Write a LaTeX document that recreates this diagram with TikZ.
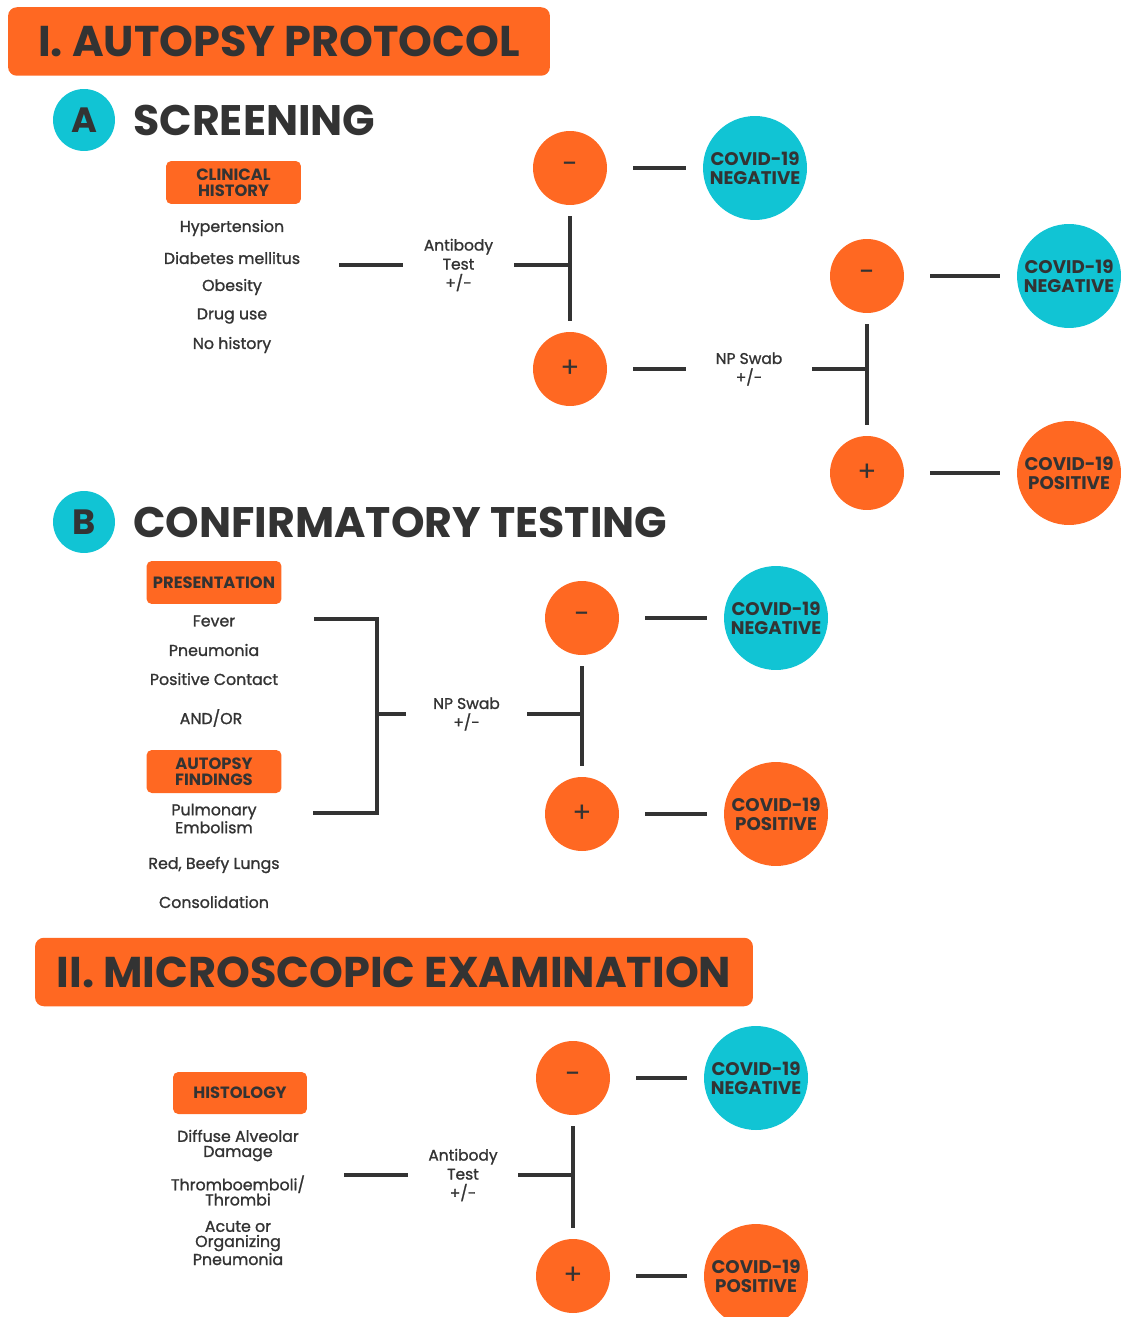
\documentclass[tikz,border=0pt]{standalone}
\usepackage{fontspec}
\setmainfont{Poppins}
\newfontfamily\medfont{Poppins}[FakeBold=1.2]
\usetikzlibrary{positioning}
\definecolor{orangeC}{RGB}{255,104,34}
\definecolor{cyanC}{RGB}{17,196,212}
\definecolor{darkC}{RGB}{51,51,51}
\tikzset{
    titlebar/.style = {rectangle, rounded corners=5pt, fill=orangeC, text=darkC, minimum height=1.37cm, font=\fontsize{24.5}{28}\selectfont\bfseries},
    headtext/.style = {anchor=west, inner sep=0pt, text=darkC, font=\fontsize{24.3}{28}\selectfont\bfseries},
    letternode/.style = {circle, fill=cyanC, minimum size=1.24cm, inner sep=0pt, text=darkC, font=\fontsize{20}{24}\selectfont\bfseries},
    tagnode/.style = {rectangle, rounded corners=3pt, fill=orangeC, minimum width=2.7cm, minimum height=0.86cm, align=center, text=darkC, font=\fontsize{9.3}{9}\selectfont\bfseries},
    itemtext/.style = {align=center, inner sep=0pt, text=darkC, font=\fontsize{9}{8.6}\selectfont\medfont},
    testtext/.style = {align=center, inner xsep=0pt, text=darkC, font=\fontsize{8.8}{10.8}\selectfont\medfont},
    signnode/.style = {circle, fill=orangeC, minimum size=1.48cm, inner sep=0pt, text=darkC, font=\fontsize{16}{18}\selectfont},
    negnode/.style = {circle, fill=cyanC, minimum size=2.08cm, inner sep=0pt, align=center, text=darkC, font=\fontsize{10.4}{10.8}\selectfont\bfseries},
    posnode/.style = {circle, fill=orangeC, minimum size=2.08cm, inner sep=0pt, align=center, text=darkC, font=\fontsize{10.4}{10.8}\selectfont\bfseries},
    edgen/.style = {-, line width=2.8pt, darkC},
    edgeside/.style = {edgen, shorten <=0.52cm, shorten >=0.34cm}, % sign to result
    edgeup/.style = {edgen, shorten <=0.22cm, shorten >=0.22cm} % minus to plus
}

\begin{document}
\begin{tikzpicture}[x=0.02cm,y=-0.02cm]
\path[use as bounding box] (0,0) rectangle (1121,1317);
%
\node[titlebar, minimum width=10.84cm] at (279,41.5) (t1) {I. AUTOPSY PROTOCOL};
\node[letternode] at (84,120) (la) {A};
\node[headtext] at (133,120) (h1) {SCREENING};
%
\node[tagnode] at (233.5,182.5) (clin) {CLINICAL\\HISTORY};
\node[itemtext] at (232,228) (i1) {Hypertension};
\node[itemtext] at (232,258) (i2) {Diabetes mellitus};
\node[itemtext] at (232,287) (i3) {Obesity};
\node[itemtext] at (232,316) (i4) {Drug use};
\node[itemtext] at (232,345) (i5) {No history};
%
\node[testtext, minimum width=2.22cm] at (458.5,265) (abA) {Antibody\\Test\\+/-};
\node[signnode] at (570,168) (mA) {-};
\node[signnode] at (570,369) (pA) {+};
\node[negnode] at (755,168) (nA) {COVID-19\\NEGATIVE};
\node[testtext, minimum width=2.52cm] at (749,369) (npA) {NP Swab\\+/-};
\node[signnode] at (867,276) (mA2) {-};
\node[signnode] at (867,473) (pA2) {+};
\node[negnode] at (1069,276) (nA2) {COVID-19\\NEGATIVE};
\node[posnode] at (1069,473) (qA2) {COVID-19\\POSITIVE};
%
\coordinate (fa) at (339,265);
\coordinate (ja) at (570,265);
\coordinate (ja2) at (867,369);
\draw[edgen] (fa) -- (abA);
\draw[edgen] (abA) -- (ja);
\draw[edgeup] (mA) -- (pA);
\draw[edgeside] (mA) -- (nA);
\draw[edgen, shorten <=0.52cm] (pA) -- (npA);
\draw[edgen] (npA) -- (ja2);
\draw[edgeup] (mA2) -- (pA2);
\draw[edgeside] (mA2) -- (nA2);
\draw[edgeside] (pA2) -- (qA2);
%
\node[letternode] at (84,522) (lb) {B};
\node[headtext] at (133,522) (h2) {CONFIRMATORY TESTING};
%
\node[tagnode] at (214,582.5) (pres) {PRESENTATION};
\node[itemtext] at (214,621) (b1) {Fever};
\node[itemtext] at (214,650) (b2) {Pneumonia};
\node[itemtext] at (214,679) (b3) {Positive Contact};
\node[itemtext] at (211,718) (b4) {AND/OR};
\node[tagnode] at (214,771.5) (auto) {AUTOPSY\\FINDINGS};
\node[itemtext] at (214,818.5) (b5) {Pulmonary\\Embolism};
\node[itemtext] at (214,865) (b6) {Red, Beefy Lungs};
\node[itemtext] at (214,902) (b7) {Consolidation};
%
\node[testtext, minimum width=2.42cm] at (466.5,714) (npB) {NP Swab\\+/-};
\node[signnode] at (582,618) (mB) {-};
\node[signnode] at (582,814) (pB) {+};
\node[negnode] at (776,618) (nB) {COVID-19\\NEGATIVE};
\node[posnode] at (776,814) (qB) {COVID-19\\POSITIVE};
%
\coordinate (bt) at (314,619);
\coordinate (bb) at (313,813);
\coordinate (bj) at (377,714);
\coordinate (jb) at (582,714);
\draw[edgen] (bt) -- (bt -| bj) -- (bb -| bj) -- (bb);
\draw[edgen] (bj) -- (npB);
\draw[edgen] (npB) -- (jb);
\draw[edgeup] (mB) -- (pB);
\draw[edgeside] (mB) -- (nB);
\draw[edgeside] (pB) -- (qB);
%
\node[titlebar, minimum width=14.36cm] at (394,972) (t2) {II. MICROSCOPIC EXAMINATION};
%
\node[tagnode, minimum width=2.68cm, minimum height=0.84cm] at (240,1093) (hist) {HISTOLOGY};
\node[itemtext] at (238,1145.5) (c1) {Diffuse Alveolar\\Damage};
\node[itemtext] at (238,1190.5) (c2) {Thromboemboli/\\Thrombi};
\node[itemtext] at (238,1243) (c3) {Acute or\\Organizing\\Pneumonia};
%
\node[testtext, minimum width=2.2cm] at (463,1175) (abC) {Antibody\\Test\\+/-};
\node[signnode] at (573,1078) (mC) {-};
\node[signnode] at (573,1276) (pC) {+};
\node[negnode] at (756,1078) (nC) {COVID-19\\NEGATIVE};
\node[posnode] at (756,1276) (qC) {COVID-19\\POSITIVE};
%
\coordinate (fc) at (344,1175);
\coordinate (jc) at (573,1175);
\draw[edgen] (fc) -- (abC);
\draw[edgen] (abC) -- (jc);
\draw[edgeup] (mC) -- (pC);
\draw[edgeside] (mC) -- (nC);
\draw[edgeside] (pC) -- (qC);

\end{tikzpicture}
\end{document}
